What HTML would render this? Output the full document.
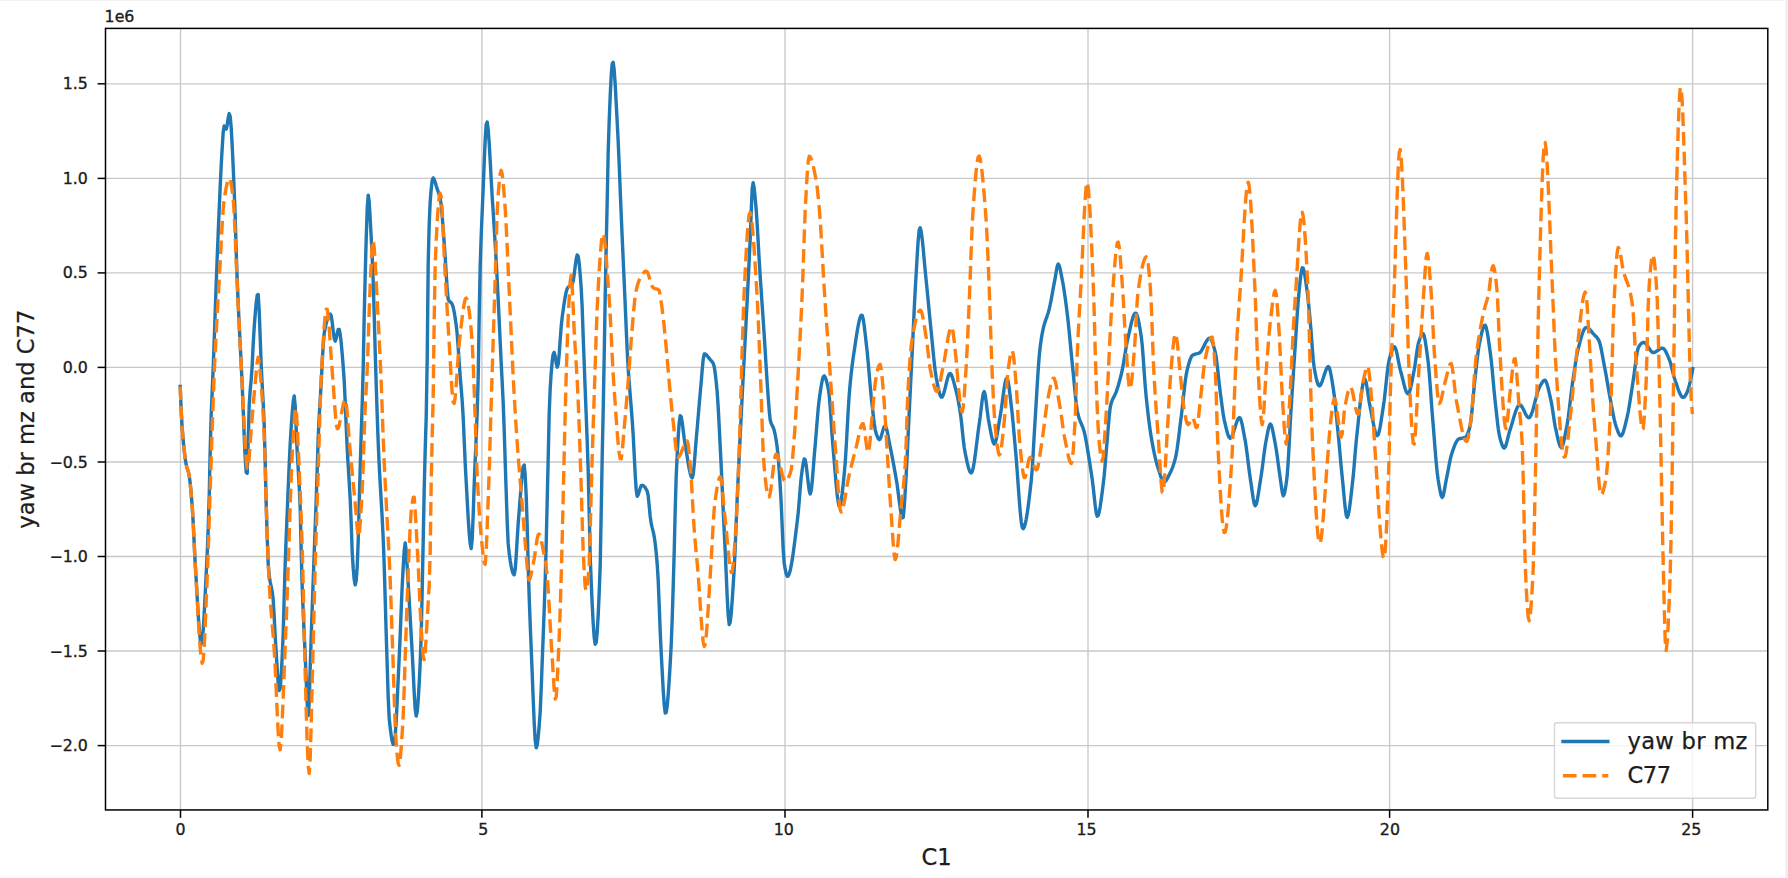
<!DOCTYPE html>
<html><head><meta charset="utf-8"><title>plot</title>
<style>
html,body{margin:0;padding:0;background:#ffffff;}
body{width:1788px;height:878px;overflow:hidden;}
svg{display:block;}
text{font-family:"DejaVu Sans", "Liberation Sans", sans-serif;fill:#1c1c1c;}
.tk{font-size:15.8px;stroke:#1c1c1c;stroke-width:0.35px;}
.lb{font-size:22.6px;stroke:#1c1c1c;stroke-width:0.25px;}
</style></head><body>
<svg width="1788" height="878" viewBox="0 0 1788 878">
<rect x="0" y="0" width="1788" height="878" fill="#ffffff"/>
<rect x="0" y="0" width="1788" height="1" fill="#f3f3f3"/><rect x="1785.4" y="0" width="2.6" height="878" fill="#efefef"/>
<rect x="105.5" y="28.4" width="1662.3" height="781.5500000000001" fill="#ffffff"/>
<clipPath id="cp"><rect x="105.5" y="28.4" width="1662.3" height="781.5500000000001"/></clipPath>
<g stroke="#c8c8c8" stroke-width="1.35" fill="none"><line x1="180.5" y1="28.4" x2="180.5" y2="809.95"/><line x1="481.9" y1="28.4" x2="481.9" y2="809.95"/><line x1="785.0" y1="28.4" x2="785.0" y2="809.95"/><line x1="1088.0" y1="28.4" x2="1088.0" y2="809.95"/><line x1="1389.6" y1="28.4" x2="1389.6" y2="809.95"/><line x1="1692.6" y1="28.4" x2="1692.6" y2="809.95"/><line x1="105.5" y1="83.8" x2="1767.8" y2="83.8"/><line x1="105.5" y1="178.4" x2="1767.8" y2="178.4"/><line x1="105.5" y1="272.9" x2="1767.8" y2="272.9"/><line x1="105.5" y1="367.4" x2="1767.8" y2="367.4"/><line x1="105.5" y1="462.0" x2="1767.8" y2="462.0"/><line x1="105.5" y1="556.5" x2="1767.8" y2="556.5"/><line x1="105.5" y1="651.0" x2="1767.8" y2="651.0"/><line x1="105.5" y1="745.6" x2="1767.8" y2="745.6"/></g>
<g clip-path="url(#cp)" fill="none" stroke-linejoin="round"><path d="M180.2,386.5 L181.2,411.0 L182.2,428.3 L183.2,440.3 L184.2,450.4 L185.2,458.6 L186.2,464.7 L187.2,468.7 L188.2,471.2 L189.2,475.5 L190.2,483.3 L191.2,493.9 L192.2,506.3 L193.2,522.8 L194.2,543.9 L195.2,563.4 L196.2,580.0 L197.2,597.5 L198.2,614.4 L199.2,628.8 L200.2,639.3 L201.2,644.2 L202.2,641.2 L203.2,630.1 L204.2,613.5 L205.2,593.9 L206.2,573.9 L207.2,553.4 L208.2,528.4 L209.2,496.6 L210.2,449.6 L211.2,414.4 L212.2,390.6 L213.2,367.4 L214.2,340.6 L215.2,311.8 L216.2,283.5 L217.2,257.5 L218.2,232.7 L219.2,209.1 L220.2,186.4 L221.2,165.3 L222.2,147.8 L223.2,132.0 L224.2,125.9 L225.2,128.0 L226.2,129.1 L227.2,124.8 L228.2,117.9 L229.2,113.6 L230.2,116.5 L231.2,128.1 L232.2,145.9 L233.2,167.5 L234.2,190.8 L235.2,216.8 L236.2,251.3 L237.2,280.5 L238.2,303.8 L239.2,324.7 L240.2,344.4 L241.2,364.0 L242.2,385.3 L243.2,410.5 L244.2,436.1 L245.2,458.1 L246.2,472.4 L247.2,473.3 L248.2,441.7 L249.2,405.3 L250.2,390.0 L251.2,379.6 L252.2,365.1 L253.2,344.1 L254.2,327.4 L255.2,314.3 L256.2,302.8 L257.2,295.2 L258.2,294.5 L259.2,310.6 L260.2,337.7 L261.2,365.3 L262.2,385.2 L263.2,402.9 L264.2,425.0 L265.2,462.6 L266.2,504.3 L267.2,537.2 L268.2,563.8 L269.2,575.7 L270.2,582.0 L271.2,586.5 L272.2,591.6 L273.2,599.8 L274.2,616.7 L275.2,636.5 L276.2,652.5 L277.2,669.1 L278.2,683.0 L279.2,690.5 L280.2,688.2 L281.2,676.0 L282.2,656.7 L283.2,633.2 L284.2,596.6 L285.2,563.6 L286.2,537.1 L287.2,512.7 L288.2,488.1 L289.2,464.5 L290.2,443.5 L291.2,427.0 L292.2,413.3 L293.2,401.6 L294.2,396.0 L295.2,405.6 L296.2,429.5 L297.2,452.1 L298.2,468.8 L299.2,485.8 L300.2,508.2 L301.2,551.4 L302.2,587.1 L303.2,612.6 L304.2,634.2 L305.2,655.5 L306.2,680.4 L307.2,703.3 L308.2,715.6 L309.2,703.0 L310.2,667.5 L311.2,636.8 L312.2,608.4 L313.2,580.3 L314.2,553.1 L315.2,526.6 L316.2,499.5 L317.2,469.1 L318.2,438.0 L319.2,415.9 L320.2,399.8 L321.2,382.4 L322.2,362.7 L323.2,345.0 L324.2,333.3 L325.2,328.0 L326.2,323.5 L327.2,319.7 L328.2,316.8 L329.2,314.9 L330.2,314.0 L331.2,315.6 L332.2,322.3 L333.2,331.1 L334.2,338.5 L335.2,341.2 L336.2,338.4 L337.2,333.4 L338.2,329.4 L339.2,329.4 L340.2,334.2 L341.2,342.8 L342.2,354.0 L343.2,366.5 L344.2,380.7 L345.2,401.9 L346.2,426.2 L347.2,448.3 L348.2,465.8 L349.2,481.9 L350.2,499.5 L351.2,523.4 L352.2,552.3 L353.2,568.2 L354.2,579.7 L355.2,584.9 L356.2,580.3 L357.2,566.8 L358.2,541.0 L359.2,502.7 L360.2,468.1 L361.2,434.7 L362.2,404.3 L363.2,368.0 L364.2,316.3 L365.2,275.4 L366.2,238.7 L367.2,208.9 L368.2,195.1 L369.2,201.7 L370.2,219.0 L371.2,237.5 L372.2,256.7 L373.2,281.1 L374.2,314.7 L375.2,351.7 L376.2,384.5 L377.2,415.1 L378.2,442.7 L379.2,465.2 L380.2,483.8 L381.2,500.7 L382.2,518.1 L383.2,538.5 L384.2,565.1 L385.2,599.4 L386.2,633.8 L387.2,665.8 L388.2,697.4 L389.2,718.4 L390.2,727.8 L391.2,735.6 L392.2,741.2 L393.2,744.4 L394.2,744.2 L395.2,735.9 L396.2,720.6 L397.2,700.8 L398.2,678.8 L399.2,657.1 L400.2,635.2 L401.2,609.3 L402.2,585.7 L403.2,567.2 L404.2,550.4 L405.2,542.9 L406.2,550.6 L407.2,567.3 L408.2,584.1 L409.2,600.4 L410.2,617.9 L411.2,635.7 L412.2,652.7 L413.2,672.2 L414.2,692.9 L415.2,709.3 L416.2,716.0 L417.2,711.8 L418.2,700.3 L419.2,683.3 L420.2,662.4 L421.2,635.3 L422.2,589.1 L423.2,540.6 L424.2,489.4 L425.2,449.3 L426.2,417.4 L427.2,358.4 L428.2,263.0 L429.2,223.9 L430.2,201.4 L431.2,189.0 L432.2,180.4 L433.2,177.9 L434.2,179.4 L435.2,182.2 L436.2,185.7 L437.2,188.9 L438.2,191.7 L439.2,194.6 L440.2,198.5 L441.2,205.0 L442.2,216.0 L443.2,229.5 L444.2,243.1 L445.2,257.2 L446.2,274.2 L447.2,289.6 L448.2,299.2 L449.2,301.2 L450.2,302.0 L451.2,302.7 L452.2,304.2 L453.2,307.3 L454.2,312.1 L455.2,318.3 L456.2,325.3 L457.2,334.4 L458.2,347.7 L459.2,362.7 L460.2,376.6 L461.2,388.5 L462.2,401.1 L463.2,417.3 L464.2,440.2 L465.2,463.5 L466.2,481.8 L467.2,500.2 L468.2,518.0 L469.2,533.2 L470.2,544.0 L471.2,548.6 L472.2,539.4 L473.2,514.3 L474.2,484.4 L475.2,459.6 L476.2,437.5 L477.2,412.4 L478.2,377.0 L479.2,315.5 L480.2,265.7 L481.2,235.5 L482.2,211.3 L483.2,188.0 L484.2,162.5 L485.2,139.3 L486.2,124.3 L487.2,122.1 L488.2,129.7 L489.2,143.4 L490.2,160.9 L491.2,179.5 L492.2,196.9 L493.2,212.2 L494.2,227.8 L495.2,244.2 L496.2,261.4 L497.2,280.0 L498.2,300.0 L499.2,320.9 L500.2,342.1 L501.2,363.0 L502.2,382.5 L503.2,402.9 L504.2,430.0 L505.2,462.3 L506.2,492.0 L507.2,522.1 L508.2,543.9 L509.2,553.2 L510.2,560.5 L511.2,566.5 L512.2,571.0 L513.2,573.8 L514.2,574.8 L515.2,569.4 L516.2,556.1 L517.2,539.2 L518.2,523.1 L519.2,510.8 L520.2,497.9 L521.2,485.1 L522.2,474.1 L523.2,466.7 L524.2,465.0 L525.2,475.5 L526.2,495.8 L527.2,525.5 L528.2,566.6 L529.2,597.3 L530.2,624.5 L531.2,648.8 L532.2,673.3 L533.2,699.2 L534.2,722.8 L535.2,740.3 L536.2,747.8 L537.2,745.2 L538.2,737.1 L539.2,725.7 L540.2,711.6 L541.2,688.7 L542.2,661.7 L543.2,635.8 L544.2,609.3 L545.2,579.8 L546.2,543.8 L547.2,500.8 L548.2,458.1 L549.2,412.6 L550.2,388.2 L551.2,373.0 L552.2,361.3 L553.2,354.1 L554.2,352.4 L555.2,356.5 L556.2,363.1 L557.2,367.2 L558.2,364.3 L559.2,353.9 L560.2,339.9 L561.2,326.4 L562.2,317.0 L563.2,309.8 L564.2,302.9 L565.2,296.8 L566.2,291.9 L567.2,288.6 L568.2,287.1 L569.2,286.4 L570.2,285.9 L571.2,285.4 L572.2,284.4 L573.2,281.2 L574.2,274.3 L575.2,266.2 L576.2,259.0 L577.2,255.0 L578.2,256.3 L579.2,263.4 L580.2,274.6 L581.2,288.2 L582.2,308.1 L583.2,337.0 L584.2,363.7 L585.2,390.0 L586.2,415.5 L587.2,441.4 L588.2,471.1 L589.2,513.4 L590.2,556.2 L591.2,581.8 L592.2,604.3 L593.2,623.5 L594.2,637.4 L595.2,644.3 L596.2,642.4 L597.2,632.1 L598.2,614.9 L599.2,592.5 L600.2,565.6 L601.2,511.8 L602.2,456.5 L603.2,410.0 L604.2,355.8 L605.2,296.4 L606.2,246.9 L607.2,200.5 L608.2,151.7 L609.2,120.5 L610.2,95.7 L611.2,75.7 L612.2,63.7 L613.2,62.3 L614.2,70.2 L615.2,84.6 L616.2,102.8 L617.2,122.5 L618.2,141.8 L619.2,165.0 L620.2,190.4 L621.2,214.6 L622.2,237.5 L623.2,260.0 L624.2,282.2 L625.2,304.8 L626.2,328.4 L627.2,350.7 L628.2,369.0 L629.2,382.5 L630.2,395.1 L631.2,407.5 L632.2,420.2 L633.2,435.2 L634.2,454.7 L635.2,474.6 L636.2,490.0 L637.2,496.2 L638.2,494.8 L639.2,491.6 L640.2,488.1 L641.2,485.6 L642.2,485.3 L643.2,485.7 L644.2,486.5 L645.2,487.7 L646.2,489.3 L647.2,491.2 L648.2,495.9 L649.2,505.9 L650.2,516.5 L651.2,523.4 L652.2,527.8 L653.2,531.7 L654.2,536.6 L655.2,543.6 L656.2,552.7 L657.2,564.1 L658.2,580.4 L659.2,605.0 L660.2,631.5 L661.2,652.9 L662.2,671.5 L663.2,689.8 L664.2,704.6 L665.2,713.0 L666.2,712.6 L667.2,706.0 L668.2,694.7 L669.2,680.1 L670.2,663.4 L671.2,645.2 L672.2,618.8 L673.2,586.5 L674.2,551.9 L675.2,510.3 L676.2,475.7 L677.2,454.9 L678.2,436.7 L679.2,422.8 L680.2,415.7 L681.2,416.7 L682.2,422.3 L683.2,430.2 L684.2,438.5 L685.2,444.9 L686.2,450.8 L687.2,457.1 L688.2,463.3 L689.2,468.9 L690.2,473.5 L691.2,476.7 L692.2,478.0 L693.2,474.6 L694.2,464.8 L695.2,451.9 L696.2,439.2 L697.2,428.1 L698.2,416.3 L699.2,404.4 L700.2,393.1 L701.2,382.1 L702.2,369.8 L703.2,359.4 L704.2,354.0 L705.2,354.0 L706.2,354.7 L707.2,355.8 L708.2,357.0 L709.2,358.4 L710.2,359.6 L711.2,360.6 L712.2,361.8 L713.2,363.4 L714.2,366.5 L715.2,373.0 L716.2,381.9 L717.2,392.3 L718.2,407.3 L719.2,426.4 L720.2,446.4 L721.2,466.4 L722.2,487.8 L723.2,509.7 L724.2,531.0 L725.2,551.0 L726.2,573.8 L727.2,596.9 L728.2,615.4 L729.2,624.6 L730.2,622.4 L731.2,613.6 L732.2,600.4 L733.2,584.8 L734.2,568.7 L735.2,547.8 L736.2,522.8 L737.2,498.3 L738.2,476.8 L739.2,455.9 L740.2,435.6 L741.2,415.6 L742.2,395.9 L743.2,376.4 L744.2,357.5 L745.2,338.8 L746.2,319.7 L747.2,300.1 L748.2,280.2 L749.2,260.0 L750.2,238.8 L751.2,211.6 L752.2,188.4 L753.2,182.6 L754.2,188.5 L755.2,198.5 L756.2,209.6 L757.2,224.6 L758.2,242.3 L759.2,260.1 L760.2,276.0 L761.2,290.9 L762.2,305.6 L763.2,320.2 L764.2,335.2 L765.2,351.1 L766.2,367.5 L767.2,383.0 L768.2,396.9 L769.2,410.5 L770.2,420.0 L771.2,423.5 L772.2,425.5 L773.2,427.4 L774.2,430.4 L775.2,434.8 L776.2,440.5 L777.2,447.5 L778.2,457.2 L779.2,470.5 L780.2,485.9 L781.2,503.3 L782.2,527.0 L783.2,549.8 L784.2,562.9 L785.2,569.2 L786.2,573.9 L787.2,576.3 L788.2,576.0 L789.2,573.9 L790.2,570.5 L791.2,565.7 L792.2,559.9 L793.2,553.1 L794.2,545.8 L795.2,537.9 L796.2,529.8 L797.2,521.6 L798.2,513.1 L799.2,501.3 L800.2,488.3 L801.2,477.4 L802.2,469.9 L803.2,463.1 L804.2,459.0 L805.2,459.7 L806.2,465.4 L807.2,473.9 L808.2,483.1 L809.2,490.5 L810.2,493.9 L811.2,490.8 L812.2,481.8 L813.2,469.5 L814.2,456.4 L815.2,445.0 L816.2,433.0 L817.2,420.4 L818.2,408.7 L819.2,399.4 L820.2,392.6 L821.2,386.0 L822.2,380.5 L823.2,376.9 L824.2,375.9 L825.2,377.2 L826.2,380.0 L827.2,383.9 L828.2,388.5 L829.2,395.2 L830.2,407.2 L831.2,422.0 L832.2,437.0 L833.2,449.4 L834.2,460.9 L835.2,473.1 L836.2,484.8 L837.2,494.9 L838.2,502.4 L839.2,506.2 L840.2,505.3 L841.2,500.7 L842.2,493.2 L843.2,484.0 L844.2,474.1 L845.2,462.8 L846.2,446.9 L847.2,428.7 L848.2,410.5 L849.2,394.9 L850.2,383.5 L851.2,373.7 L852.2,365.1 L853.2,357.6 L854.2,351.0 L855.2,344.2 L856.2,337.6 L857.2,331.2 L858.2,325.6 L859.2,320.8 L860.2,317.3 L861.2,315.3 L862.2,315.4 L863.2,319.0 L864.2,325.7 L865.2,334.1 L866.2,343.1 L867.2,351.9 L868.2,362.4 L869.2,374.2 L870.2,386.1 L871.2,396.7 L872.2,405.8 L873.2,414.9 L874.2,423.2 L875.2,429.6 L876.2,433.5 L877.2,436.4 L878.2,438.6 L879.2,439.7 L880.2,439.0 L881.2,436.4 L882.2,432.9 L883.2,429.4 L884.2,426.7 L885.2,425.8 L886.2,427.5 L887.2,431.4 L888.2,436.5 L889.2,442.0 L890.2,446.9 L891.2,451.8 L892.2,456.9 L893.2,462.2 L894.2,467.6 L895.2,473.2 L896.2,478.9 L897.2,485.1 L898.2,492.7 L899.2,500.7 L900.2,508.2 L901.2,514.3 L902.2,517.9 L903.2,517.5 L904.2,507.5 L905.2,491.4 L906.2,474.7 L907.2,455.5 L908.2,433.7 L909.2,412.6 L910.2,392.5 L911.2,372.5 L912.2,352.3 L913.2,331.4 L914.2,309.7 L915.2,290.1 L916.2,273.1 L917.2,255.6 L918.2,240.2 L919.2,230.0 L920.2,227.8 L921.2,231.6 L922.2,238.9 L923.2,248.7 L924.2,259.8 L925.2,270.9 L926.2,280.9 L927.2,290.7 L928.2,301.0 L929.2,311.5 L930.2,321.7 L931.2,331.6 L932.2,342.0 L933.2,352.4 L934.2,362.3 L935.2,370.8 L936.2,377.5 L937.2,382.7 L938.2,387.7 L939.2,392.1 L940.2,395.4 L941.2,397.1 L942.2,397.0 L943.2,395.0 L944.2,391.8 L945.2,387.9 L946.2,383.6 L947.2,379.6 L948.2,376.2 L949.2,374.0 L950.2,373.4 L951.2,374.5 L952.2,376.8 L953.2,379.9 L954.2,383.6 L955.2,387.4 L956.2,391.2 L957.2,395.5 L958.2,400.5 L959.2,406.0 L960.2,412.1 L961.2,419.8 L962.2,429.3 L963.2,439.0 L964.2,447.2 L965.2,452.9 L966.2,457.9 L967.2,462.6 L968.2,466.7 L969.2,470.0 L970.2,472.2 L971.2,473.0 L972.2,471.6 L973.2,467.9 L974.2,462.3 L975.2,455.3 L976.2,447.5 L977.2,439.3 L978.2,431.2 L979.2,423.9 L980.2,416.9 L981.2,408.4 L982.2,400.0 L983.2,393.8 L984.2,391.6 L985.2,394.9 L986.2,401.9 L987.2,410.4 L988.2,418.3 L989.2,423.8 L990.2,429.2 L991.2,434.4 L992.2,439.0 L993.2,442.4 L994.2,444.0 L995.2,443.0 L996.2,439.6 L997.2,434.3 L998.2,428.2 L999.2,421.8 L1000.2,416.2 L1001.2,410.0 L1002.2,402.7 L1003.2,395.1 L1004.2,388.1 L1005.2,382.4 L1006.2,378.8 L1007.2,378.2 L1008.2,381.6 L1009.2,388.2 L1010.2,396.5 L1011.2,405.1 L1012.2,413.8 L1013.2,424.2 L1014.2,435.5 L1015.2,446.8 L1016.2,458.1 L1017.2,471.3 L1018.2,485.4 L1019.2,499.2 L1020.2,511.6 L1021.2,521.4 L1022.2,527.5 L1023.2,528.7 L1024.2,527.2 L1025.2,524.0 L1026.2,519.3 L1027.2,513.4 L1028.2,506.3 L1029.2,498.4 L1030.2,489.8 L1031.2,480.8 L1032.2,469.6 L1033.2,453.1 L1034.2,435.0 L1035.2,418.7 L1036.2,402.1 L1037.2,385.3 L1038.2,369.6 L1039.2,356.3 L1040.2,346.7 L1041.2,339.4 L1042.2,333.5 L1043.2,328.7 L1044.2,324.7 L1045.2,321.4 L1046.2,318.6 L1047.2,315.8 L1048.2,312.8 L1049.2,309.2 L1050.2,304.7 L1051.2,299.6 L1052.2,294.1 L1053.2,288.5 L1054.2,283.1 L1055.2,277.9 L1056.2,271.7 L1057.2,266.3 L1058.2,264.0 L1059.2,265.5 L1060.2,269.2 L1061.2,274.3 L1062.2,279.5 L1063.2,284.8 L1064.2,291.0 L1065.2,298.0 L1066.2,305.5 L1067.2,313.4 L1068.2,322.0 L1069.2,331.8 L1070.2,342.2 L1071.2,352.8 L1072.2,363.2 L1073.2,373.0 L1074.2,383.3 L1075.2,393.8 L1076.2,403.3 L1077.2,410.5 L1078.2,415.1 L1079.2,418.5 L1080.2,421.2 L1081.2,423.5 L1082.2,425.9 L1083.2,428.5 L1084.2,431.8 L1085.2,436.1 L1086.2,441.4 L1087.2,447.3 L1088.2,453.4 L1089.2,459.5 L1090.2,465.9 L1091.2,472.5 L1092.2,479.3 L1093.2,487.1 L1094.2,496.5 L1095.2,505.5 L1096.2,512.7 L1097.2,516.2 L1098.2,515.4 L1099.2,512.0 L1100.2,506.6 L1101.2,499.8 L1102.2,492.1 L1103.2,484.0 L1104.2,475.5 L1105.2,464.3 L1106.2,451.8 L1107.2,440.0 L1108.2,428.2 L1109.2,416.4 L1110.2,407.5 L1111.2,403.1 L1112.2,400.2 L1113.2,398.1 L1114.2,396.2 L1115.2,394.3 L1116.2,391.9 L1117.2,388.9 L1118.2,385.7 L1119.2,382.2 L1120.2,378.5 L1121.2,374.5 L1122.2,370.2 L1123.2,365.0 L1124.2,359.1 L1125.2,352.9 L1126.2,346.8 L1127.2,341.5 L1128.2,337.0 L1129.2,332.6 L1130.2,328.1 L1131.2,323.7 L1132.2,319.9 L1133.2,316.6 L1134.2,314.3 L1135.2,313.1 L1136.2,313.4 L1137.2,315.5 L1138.2,319.3 L1139.2,324.2 L1140.2,330.0 L1141.2,336.3 L1142.2,344.9 L1143.2,357.7 L1144.2,372.2 L1145.2,386.0 L1146.2,396.8 L1147.2,406.2 L1148.2,415.1 L1149.2,423.2 L1150.2,430.6 L1151.2,437.1 L1152.2,442.8 L1153.2,448.1 L1154.2,453.0 L1155.2,457.5 L1156.2,461.6 L1157.2,465.2 L1158.2,468.5 L1159.2,471.5 L1160.2,474.7 L1161.2,477.6 L1162.2,480.0 L1163.2,481.6 L1164.2,482.1 L1165.2,481.6 L1166.2,480.4 L1167.2,478.8 L1168.2,476.8 L1169.2,474.8 L1170.2,472.8 L1171.2,470.7 L1172.2,468.3 L1173.2,465.6 L1174.2,462.5 L1175.2,458.9 L1176.2,454.4 L1177.2,448.3 L1178.2,440.9 L1179.2,432.9 L1180.2,424.6 L1181.2,416.7 L1182.2,408.4 L1183.2,399.3 L1184.2,390.1 L1185.2,381.6 L1186.2,374.7 L1187.2,369.9 L1188.2,365.9 L1189.2,362.4 L1190.2,359.4 L1191.2,357.0 L1192.2,355.5 L1193.2,354.9 L1194.2,354.5 L1195.2,354.2 L1196.2,353.9 L1197.2,353.7 L1198.2,353.4 L1199.2,353.0 L1200.2,352.3 L1201.2,351.1 L1202.2,349.4 L1203.2,347.5 L1204.2,345.5 L1205.2,343.5 L1206.2,341.7 L1207.2,340.1 L1208.2,338.9 L1209.2,338.2 L1210.2,338.3 L1211.2,339.5 L1212.2,341.7 L1213.2,344.7 L1214.2,348.2 L1215.2,352.1 L1216.2,357.2 L1217.2,365.1 L1218.2,374.3 L1219.2,383.6 L1220.2,391.6 L1221.2,399.4 L1222.2,407.1 L1223.2,414.1 L1224.2,419.8 L1225.2,424.2 L1226.2,428.4 L1227.2,432.3 L1228.2,435.4 L1229.2,437.5 L1230.2,438.3 L1231.2,437.6 L1232.2,435.8 L1233.2,433.2 L1234.2,430.1 L1235.2,426.7 L1236.2,423.5 L1237.2,420.7 L1238.2,418.6 L1239.2,417.6 L1240.2,418.1 L1241.2,420.6 L1242.2,424.7 L1243.2,429.8 L1244.2,435.2 L1245.2,440.6 L1246.2,447.0 L1247.2,454.6 L1248.2,462.8 L1249.2,470.8 L1250.2,478.1 L1251.2,484.6 L1252.2,491.8 L1253.2,498.5 L1254.2,503.6 L1255.2,505.8 L1256.2,504.5 L1257.2,500.5 L1258.2,494.8 L1259.2,488.3 L1260.2,481.8 L1261.2,475.6 L1262.2,468.4 L1263.2,460.6 L1264.2,452.8 L1265.2,445.8 L1266.2,440.0 L1267.2,434.8 L1268.2,429.7 L1269.2,425.8 L1270.2,424.0 L1271.2,425.0 L1272.2,428.2 L1273.2,432.8 L1274.2,438.1 L1275.2,443.5 L1276.2,449.2 L1277.2,456.1 L1278.2,463.6 L1279.2,471.1 L1280.2,478.1 L1281.2,484.9 L1282.2,492.0 L1283.2,495.8 L1284.2,494.3 L1285.2,489.8 L1286.2,483.5 L1287.2,475.5 L1288.2,461.7 L1289.2,443.9 L1290.2,424.7 L1291.2,406.9 L1292.2,391.3 L1293.2,376.0 L1294.2,360.9 L1295.2,345.9 L1296.2,330.7 L1297.2,314.6 L1298.2,301.1 L1299.2,290.5 L1300.2,280.4 L1301.2,272.3 L1302.2,267.8 L1303.2,268.1 L1304.2,271.7 L1305.2,277.5 L1306.2,284.4 L1307.2,291.4 L1308.2,300.0 L1309.2,310.2 L1310.2,321.2 L1311.2,332.9 L1312.2,346.9 L1313.2,359.7 L1314.2,367.8 L1315.2,373.3 L1316.2,378.2 L1317.2,382.1 L1318.2,384.8 L1319.2,385.9 L1320.2,385.4 L1321.2,383.7 L1322.2,381.3 L1323.2,378.3 L1324.2,375.1 L1325.2,372.1 L1326.2,369.4 L1327.2,367.5 L1328.2,366.6 L1329.2,367.5 L1330.2,370.8 L1331.2,375.8 L1332.2,381.8 L1333.2,388.1 L1334.2,394.9 L1335.2,403.6 L1336.2,413.5 L1337.2,423.9 L1338.2,434.0 L1339.2,444.7 L1340.2,455.8 L1341.2,466.9 L1342.2,477.2 L1343.2,487.0 L1344.2,497.8 L1345.2,507.8 L1346.2,515.0 L1347.2,517.4 L1348.2,515.2 L1349.2,510.0 L1350.2,502.7 L1351.2,494.2 L1352.2,485.2 L1353.2,476.3 L1354.2,465.0 L1355.2,452.6 L1356.2,441.4 L1357.2,432.0 L1358.2,422.3 L1359.2,412.6 L1360.2,403.3 L1361.2,394.9 L1362.2,387.9 L1363.2,382.6 L1364.2,379.6 L1365.2,379.4 L1366.2,382.8 L1367.2,388.7 L1368.2,395.6 L1369.2,402.1 L1370.2,407.2 L1371.2,412.3 L1372.2,417.6 L1373.2,422.8 L1374.2,427.6 L1375.2,431.5 L1376.2,434.3 L1377.2,435.6 L1378.2,434.7 L1379.2,431.5 L1380.2,426.6 L1381.2,420.5 L1382.2,413.8 L1383.2,407.2 L1384.2,400.4 L1385.2,391.8 L1386.2,382.2 L1387.2,373.0 L1388.2,365.1 L1389.2,359.7 L1390.2,356.0 L1391.2,352.5 L1392.2,349.7 L1393.2,347.7 L1394.2,346.7 L1395.2,347.5 L1396.2,350.4 L1397.2,354.7 L1398.2,359.9 L1399.2,365.0 L1400.2,369.6 L1401.2,373.3 L1402.2,377.2 L1403.2,381.2 L1404.2,385.2 L1405.2,388.7 L1406.2,391.5 L1407.2,393.3 L1408.2,393.9 L1409.2,392.6 L1410.2,389.6 L1411.2,385.3 L1412.2,380.3 L1413.2,375.0 L1414.2,370.0 L1415.2,363.7 L1416.2,356.4 L1417.2,349.5 L1418.2,344.1 L1419.2,340.8 L1420.2,337.8 L1421.2,335.4 L1422.2,333.8 L1423.2,333.6 L1424.2,336.0 L1425.2,340.8 L1426.2,347.2 L1427.2,354.5 L1428.2,362.1 L1429.2,372.6 L1430.2,385.7 L1431.2,399.7 L1432.2,413.1 L1433.2,425.2 L1434.2,437.9 L1435.2,450.6 L1436.2,462.4 L1437.2,472.5 L1438.2,480.0 L1439.2,486.0 L1440.2,491.5 L1441.2,495.6 L1442.2,497.4 L1443.2,495.8 L1444.2,491.2 L1445.2,485.4 L1446.2,480.0 L1447.2,475.1 L1448.2,469.9 L1449.2,464.6 L1450.2,459.7 L1451.2,455.4 L1452.2,452.2 L1453.2,449.4 L1454.2,446.7 L1455.2,444.2 L1456.2,442.1 L1457.2,440.4 L1458.2,439.3 L1459.2,438.8 L1460.2,438.5 L1461.2,438.3 L1462.2,438.1 L1463.2,437.9 L1464.2,437.7 L1465.2,437.3 L1466.2,436.6 L1467.2,434.9 L1468.2,432.4 L1469.2,429.2 L1470.2,425.4 L1471.2,418.6 L1472.2,408.5 L1473.2,397.1 L1474.2,386.3 L1475.2,377.1 L1476.2,367.9 L1477.2,359.0 L1478.2,351.0 L1479.2,344.5 L1480.2,339.7 L1481.2,335.0 L1482.2,330.9 L1483.2,327.6 L1484.2,325.6 L1485.2,325.2 L1486.2,327.5 L1487.2,332.0 L1488.2,338.0 L1489.2,345.0 L1490.2,352.3 L1491.2,360.0 L1492.2,369.8 L1493.2,380.8 L1494.2,391.9 L1495.2,401.6 L1496.2,410.8 L1497.2,420.0 L1498.2,428.3 L1499.2,434.7 L1500.2,438.9 L1501.2,442.4 L1502.2,445.3 L1503.2,447.3 L1504.2,448.1 L1505.2,447.1 L1506.2,444.4 L1507.2,440.6 L1508.2,436.5 L1509.2,432.6 L1510.2,429.4 L1511.2,426.3 L1512.2,422.9 L1513.2,419.4 L1514.2,416.0 L1515.2,412.8 L1516.2,409.9 L1517.2,407.6 L1518.2,405.9 L1519.2,404.9 L1520.2,404.9 L1521.2,405.7 L1522.2,407.2 L1523.2,409.0 L1524.2,411.1 L1525.2,413.2 L1526.2,415.1 L1527.2,416.6 L1528.2,417.6 L1529.2,417.7 L1530.2,416.8 L1531.2,414.8 L1532.2,412.0 L1533.2,408.7 L1534.2,404.9 L1535.2,401.0 L1536.2,397.1 L1537.2,393.4 L1538.2,390.3 L1539.2,387.8 L1540.2,385.9 L1541.2,384.1 L1542.2,382.5 L1543.2,381.1 L1544.2,380.3 L1545.2,380.3 L1546.2,381.8 L1547.2,384.6 L1548.2,388.3 L1549.2,392.6 L1550.2,397.1 L1551.2,401.6 L1552.2,407.3 L1553.2,414.0 L1554.2,420.7 L1555.2,426.6 L1556.2,431.2 L1557.2,435.8 L1558.2,440.2 L1559.2,443.9 L1560.2,446.5 L1561.2,447.4 L1562.2,446.4 L1563.2,443.6 L1564.2,439.5 L1565.2,434.7 L1566.2,429.4 L1567.2,424.2 L1568.2,417.7 L1569.2,409.9 L1570.2,401.5 L1571.2,393.1 L1572.2,385.3 L1573.2,378.4 L1574.2,371.6 L1575.2,364.9 L1576.2,358.7 L1577.2,353.2 L1578.2,348.7 L1579.2,344.9 L1580.2,341.1 L1581.2,337.6 L1582.2,334.3 L1583.2,331.5 L1584.2,329.3 L1585.2,327.9 L1586.2,327.4 L1587.2,327.6 L1588.2,328.1 L1589.2,329.0 L1590.2,330.0 L1591.2,331.1 L1592.2,332.4 L1593.2,333.6 L1594.2,334.7 L1595.2,335.7 L1596.2,336.7 L1597.2,337.9 L1598.2,339.3 L1599.2,341.3 L1600.2,344.6 L1601.2,349.0 L1602.2,354.2 L1603.2,359.7 L1604.2,365.1 L1605.2,370.3 L1606.2,375.8 L1607.2,381.6 L1608.2,387.4 L1609.2,393.1 L1610.2,398.5 L1611.2,403.8 L1612.2,409.3 L1613.2,414.6 L1614.2,419.4 L1615.2,423.5 L1616.2,426.7 L1617.2,429.5 L1618.2,432.2 L1619.2,434.3 L1620.2,435.7 L1621.2,435.9 L1622.2,434.7 L1623.2,432.3 L1624.2,429.0 L1625.2,425.1 L1626.2,420.9 L1627.2,416.7 L1628.2,412.0 L1629.2,406.4 L1630.2,400.1 L1631.2,393.5 L1632.2,386.9 L1633.2,380.6 L1634.2,373.4 L1635.2,365.7 L1636.2,358.3 L1637.2,352.0 L1638.2,347.9 L1639.2,346.1 L1640.2,344.7 L1641.2,343.6 L1642.2,342.8 L1643.2,342.4 L1644.2,342.5 L1645.2,343.1 L1646.2,344.2 L1647.2,345.5 L1648.2,347.0 L1649.2,348.6 L1650.2,350.0 L1651.2,351.3 L1652.2,352.2 L1653.2,352.6 L1654.2,352.5 L1655.2,352.1 L1656.2,351.6 L1657.2,350.9 L1658.2,350.2 L1659.2,349.4 L1660.2,348.8 L1661.2,348.3 L1662.2,348.1 L1663.2,348.3 L1664.2,349.1 L1665.2,350.6 L1666.2,352.4 L1667.2,354.6 L1668.2,356.9 L1669.2,359.3 L1670.2,362.0 L1671.2,365.6 L1672.2,369.6 L1673.2,373.7 L1674.2,377.5 L1675.2,380.6 L1676.2,383.4 L1677.2,386.4 L1678.2,389.3 L1679.2,392.0 L1680.2,394.2 L1681.2,396.0 L1682.2,397.1 L1683.2,397.4 L1684.2,397.0 L1685.2,395.9 L1686.2,394.2 L1687.2,392.0 L1688.2,389.1 L1689.2,385.7 L1690.2,381.7 L1691.2,377.1 L1692.2,372.0 L1692.8,368.6" stroke="#1f77b4" stroke-width="3.4" stroke-linecap="square"/><path d="M180.2,386.5 L181.2,411.0 L182.2,428.3 L183.2,440.3 L184.2,450.4 L185.2,458.6 L186.2,464.7 L187.2,468.7 L188.2,471.2 L189.2,475.5 L190.2,483.3 L191.2,493.9 L192.2,506.3 L193.2,522.7 L194.2,543.6 L195.2,563.3 L196.2,580.5 L197.2,598.8 L198.2,617.0 L199.2,633.8 L200.2,648.0 L201.2,658.3 L202.2,663.3 L203.2,660.4 L204.2,646.8 L205.2,625.9 L206.2,601.6 L207.2,577.7 L208.2,550.9 L209.2,520.1 L210.2,488.9 L211.2,459.2 L212.2,428.7 L213.2,399.5 L214.2,374.0 L215.2,352.3 L216.2,332.6 L217.2,314.3 L218.2,296.9 L219.2,279.8 L220.2,262.0 L221.2,242.7 L222.2,224.2 L223.2,208.9 L224.2,199.3 L225.2,193.0 L226.2,187.5 L227.2,183.0 L228.2,179.9 L229.2,178.5 L230.2,179.7 L231.2,184.0 L232.2,190.8 L233.2,199.1 L234.2,213.3 L235.2,236.4 L236.2,261.6 L237.2,283.4 L238.2,304.4 L239.2,325.2 L240.2,345.4 L241.2,364.7 L242.2,383.5 L243.2,404.5 L244.2,425.9 L245.2,445.2 L246.2,460.1 L247.2,468.2 L248.2,467.1 L249.2,457.4 L250.2,443.4 L251.2,429.2 L252.2,417.5 L253.2,405.6 L254.2,394.1 L255.2,383.7 L256.2,372.2 L257.2,362.1 L258.2,357.2 L259.2,361.5 L260.2,372.7 L261.2,384.8 L262.2,398.5 L263.2,415.3 L264.2,436.0 L265.2,468.0 L266.2,504.5 L267.2,534.7 L268.2,562.4 L269.2,583.6 L270.2,599.4 L271.2,612.5 L272.2,624.2 L273.2,636.1 L274.2,649.6 L275.2,667.4 L276.2,689.5 L277.2,712.4 L278.2,732.5 L279.2,746.2 L280.2,749.7 L281.2,740.6 L282.2,721.8 L283.2,697.1 L284.2,670.7 L285.2,646.3 L286.2,621.0 L287.2,593.8 L288.2,566.5 L289.2,536.8 L290.2,505.8 L291.2,477.0 L292.2,453.7 L293.2,436.5 L294.2,420.8 L295.2,409.9 L296.2,408.5 L297.2,425.4 L298.2,448.3 L299.2,469.1 L300.2,491.8 L301.2,517.3 L302.2,546.9 L303.2,585.1 L304.2,634.5 L305.2,673.0 L306.2,710.1 L307.2,743.0 L308.2,766.1 L309.2,773.6 L310.2,757.8 L311.2,723.8 L312.2,682.3 L313.2,643.7 L314.2,603.2 L315.2,565.0 L316.2,532.2 L317.2,501.5 L318.2,471.1 L319.2,437.9 L320.2,404.6 L321.2,377.9 L322.2,359.4 L323.2,342.1 L324.2,326.9 L325.2,315.5 L326.2,309.1 L327.2,309.2 L328.2,316.2 L329.2,328.0 L330.2,342.6 L331.2,357.6 L332.2,370.9 L333.2,383.6 L334.2,398.3 L335.2,412.4 L336.2,423.5 L337.2,428.8 L338.2,428.2 L339.2,425.1 L340.2,420.5 L341.2,415.1 L342.2,409.6 L343.2,404.6 L344.2,401.1 L345.2,399.5 L346.2,402.9 L347.2,412.8 L348.2,426.1 L349.2,440.0 L350.2,451.5 L351.2,461.9 L352.2,472.4 L353.2,482.8 L354.2,493.1 L355.2,503.5 L356.2,514.8 L357.2,528.0 L358.2,536.6 L359.2,534.6 L360.2,523.7 L361.2,507.7 L362.2,490.2 L363.2,465.0 L364.2,434.5 L365.2,407.2 L366.2,389.0 L367.2,370.5 L368.2,342.2 L369.2,310.8 L370.2,285.6 L371.2,262.5 L372.2,244.5 L373.2,240.4 L374.2,247.9 L375.2,262.4 L376.2,281.0 L377.2,300.9 L378.2,319.3 L379.2,338.5 L380.2,359.8 L381.2,382.8 L382.2,409.0 L383.2,438.1 L384.2,461.8 L385.2,482.3 L386.2,501.4 L387.2,520.5 L388.2,538.7 L389.2,557.3 L390.2,579.6 L391.2,607.3 L392.2,636.8 L393.2,665.5 L394.2,696.8 L395.2,725.1 L396.2,743.5 L397.2,755.3 L398.2,763.7 L399.2,765.3 L400.2,759.4 L401.2,747.9 L402.2,732.8 L403.2,715.8 L404.2,688.7 L405.2,656.8 L406.2,627.9 L407.2,598.8 L408.2,572.1 L409.2,548.5 L410.2,526.1 L411.2,510.9 L412.2,503.0 L413.2,497.5 L414.2,497.2 L415.2,510.9 L416.2,528.2 L417.2,545.8 L418.2,565.0 L419.2,586.7 L420.2,609.5 L421.2,628.3 L422.2,644.2 L423.2,656.9 L424.2,659.7 L425.2,651.8 L426.2,637.2 L427.2,619.5 L428.2,602.4 L429.2,585.1 L430.2,551.6 L431.2,482.5 L432.2,436.7 L433.2,395.5 L434.2,319.2 L435.2,264.8 L436.2,240.9 L437.2,221.5 L438.2,207.0 L439.2,197.5 L440.2,193.2 L441.2,196.4 L442.2,210.8 L443.2,232.0 L444.2,254.9 L445.2,274.6 L446.2,292.3 L447.2,310.2 L448.2,327.3 L449.2,343.1 L450.2,360.2 L451.2,377.7 L452.2,392.8 L453.2,402.2 L454.2,403.4 L455.2,397.0 L456.2,385.5 L457.2,371.3 L458.2,356.5 L459.2,343.5 L460.2,334.3 L461.2,325.8 L462.2,317.4 L463.2,309.7 L464.2,303.5 L465.2,299.3 L466.2,298.0 L467.2,299.8 L468.2,304.4 L469.2,311.3 L470.2,320.0 L471.2,330.1 L472.2,342.4 L473.2,364.1 L474.2,390.0 L475.2,419.3 L476.2,450.8 L477.2,475.1 L478.2,494.0 L479.2,510.6 L480.2,524.8 L481.2,536.5 L482.2,546.5 L483.2,555.9 L484.2,562.8 L485.2,564.4 L486.2,551.5 L487.2,526.9 L488.2,499.1 L489.2,471.0 L490.2,437.5 L491.2,403.0 L492.2,371.1 L493.2,340.1 L494.2,309.5 L495.2,278.1 L496.2,242.7 L497.2,211.8 L498.2,194.6 L499.2,182.4 L500.2,173.6 L501.2,170.3 L502.2,174.0 L503.2,183.3 L504.2,195.2 L505.2,208.3 L506.2,226.1 L507.2,247.2 L508.2,269.6 L509.2,291.1 L510.2,312.3 L511.2,334.3 L512.2,356.1 L513.2,376.8 L514.2,395.3 L515.2,412.2 L516.2,428.0 L517.2,442.7 L518.2,456.4 L519.2,468.9 L520.2,480.8 L521.2,492.7 L522.2,505.0 L523.2,518.0 L524.2,530.8 L525.2,542.9 L526.2,554.5 L527.2,567.1 L528.2,577.0 L529.2,579.9 L530.2,578.0 L531.2,574.1 L532.2,569.1 L533.2,563.9 L534.2,558.8 L535.2,552.2 L536.2,545.0 L537.2,538.6 L538.2,534.6 L539.2,534.0 L540.2,536.1 L541.2,540.0 L542.2,544.9 L543.2,550.1 L544.2,555.0 L545.2,560.3 L546.2,566.8 L547.2,576.0 L548.2,589.9 L549.2,606.8 L550.2,624.9 L551.2,642.0 L552.2,657.1 L553.2,674.0 L554.2,689.6 L555.2,699.1 L556.2,697.0 L557.2,681.5 L558.2,659.8 L559.2,637.2 L560.2,609.2 L561.2,576.8 L562.2,539.5 L563.2,496.5 L564.2,454.4 L565.2,412.4 L566.2,376.3 L567.2,344.1 L568.2,318.0 L569.2,298.1 L570.2,281.4 L571.2,275.3 L572.2,286.2 L573.2,308.0 L574.2,331.0 L575.2,348.2 L576.2,363.6 L577.2,380.3 L578.2,401.2 L579.2,427.5 L580.2,456.5 L581.2,486.6 L582.2,521.0 L583.2,551.3 L584.2,571.2 L585.2,586.7 L586.2,590.5 L587.2,586.2 L588.2,577.7 L589.2,564.9 L590.2,531.8 L591.2,490.6 L592.2,457.3 L593.2,426.0 L594.2,395.9 L595.2,365.7 L596.2,334.9 L597.2,307.6 L598.2,287.8 L599.2,271.3 L600.2,256.1 L601.2,243.8 L602.2,235.9 L603.2,233.8 L604.2,237.7 L605.2,246.0 L606.2,257.5 L607.2,270.7 L608.2,284.5 L609.2,298.2 L610.2,315.4 L611.2,335.1 L612.2,355.4 L613.2,374.3 L614.2,390.0 L615.2,404.0 L616.2,418.4 L617.2,432.1 L618.2,444.1 L619.2,453.3 L620.2,458.7 L621.2,458.9 L622.2,451.7 L623.2,440.0 L624.2,427.8 L625.2,417.0 L626.2,405.6 L627.2,393.7 L628.2,381.0 L629.2,367.2 L630.2,353.3 L631.2,340.3 L632.2,328.4 L633.2,316.3 L634.2,305.2 L635.2,296.1 L636.2,290.2 L637.2,286.1 L638.2,282.8 L639.2,280.2 L640.2,278.1 L641.2,276.4 L642.2,274.8 L643.2,273.4 L644.2,272.2 L645.2,271.4 L646.2,271.1 L647.2,271.8 L648.2,274.0 L649.2,277.1 L650.2,280.6 L651.2,283.9 L652.2,286.4 L653.2,287.8 L654.2,288.3 L655.2,288.6 L656.2,288.8 L657.2,289.1 L658.2,289.6 L659.2,290.7 L660.2,295.1 L661.2,301.9 L662.2,309.3 L663.2,317.3 L664.2,326.8 L665.2,337.1 L666.2,347.6 L667.2,359.2 L668.2,370.9 L669.2,382.1 L670.2,392.6 L671.2,402.9 L672.2,412.8 L673.2,422.1 L674.2,431.2 L675.2,441.5 L676.2,450.8 L677.2,456.6 L678.2,457.3 L679.2,456.3 L680.2,454.6 L681.2,452.4 L682.2,450.0 L683.2,447.4 L684.2,445.0 L685.2,443.0 L686.2,441.6 L687.2,441.0 L688.2,444.2 L689.2,453.3 L690.2,465.1 L691.2,477.8 L692.2,495.0 L693.2,513.7 L694.2,529.4 L695.2,541.7 L696.2,552.7 L697.2,563.3 L698.2,574.9 L699.2,588.8 L700.2,604.1 L701.2,619.2 L702.2,632.3 L703.2,642.0 L704.2,646.5 L705.2,644.4 L706.2,636.2 L707.2,623.7 L708.2,608.3 L709.2,591.8 L710.2,575.9 L711.2,560.5 L712.2,542.1 L713.2,523.7 L714.2,509.2 L715.2,500.6 L716.2,493.3 L717.2,486.9 L718.2,481.7 L719.2,478.2 L720.2,476.8 L721.2,479.6 L722.2,487.7 L723.2,498.6 L724.2,509.9 L725.2,519.3 L726.2,529.3 L727.2,540.2 L728.2,551.0 L729.2,560.7 L730.2,568.2 L731.2,572.4 L732.2,571.9 L733.2,564.1 L734.2,551.7 L735.2,538.2 L736.2,522.0 L737.2,501.9 L738.2,478.6 L739.2,450.9 L740.2,416.9 L741.2,383.6 L742.2,349.4 L743.2,316.6 L744.2,291.1 L745.2,271.2 L746.2,252.2 L747.2,235.4 L748.2,222.3 L749.2,214.3 L750.2,212.7 L751.2,216.7 L752.2,224.8 L753.2,236.2 L754.2,250.1 L755.2,265.5 L756.2,281.5 L757.2,297.9 L758.2,318.7 L759.2,343.2 L760.2,369.3 L761.2,395.3 L762.2,426.0 L763.2,453.1 L764.2,466.8 L765.2,477.5 L766.2,486.4 L767.2,493.0 L768.2,496.7 L769.2,496.9 L770.2,493.1 L771.2,486.3 L772.2,477.9 L773.2,469.1 L774.2,461.3 L775.2,455.8 L776.2,454.0 L777.2,455.1 L778.2,457.7 L779.2,461.4 L780.2,465.7 L781.2,470.2 L782.2,474.4 L783.2,478.0 L784.2,480.5 L785.2,481.4 L786.2,481.0 L787.2,480.0 L788.2,478.3 L789.2,476.0 L790.2,473.3 L791.2,469.8 L792.2,462.2 L793.2,450.9 L794.2,438.3 L795.2,424.3 L796.2,407.6 L797.2,390.0 L798.2,372.4 L799.2,354.2 L800.2,335.2 L801.2,315.0 L802.2,293.4 L803.2,267.3 L804.2,237.1 L805.2,210.1 L806.2,191.3 L807.2,174.4 L808.2,161.4 L809.2,156.2 L810.2,156.9 L811.2,158.9 L812.2,161.9 L813.2,165.8 L814.2,170.4 L815.2,175.4 L816.2,180.6 L817.2,187.7 L818.2,197.0 L819.2,207.7 L820.2,220.3 L821.2,236.0 L822.2,253.4 L823.2,271.2 L824.2,288.0 L825.2,303.2 L826.2,317.8 L827.2,332.2 L828.2,346.3 L829.2,360.4 L830.2,374.4 L831.2,388.6 L832.2,403.1 L833.2,417.8 L834.2,432.1 L835.2,445.7 L836.2,459.3 L837.2,474.4 L838.2,489.1 L839.2,501.6 L840.2,509.8 L841.2,512.1 L842.2,510.5 L843.2,507.2 L844.2,502.5 L845.2,497.0 L846.2,491.0 L847.2,485.0 L848.2,479.5 L849.2,474.9 L850.2,470.7 L851.2,466.6 L852.2,462.6 L853.2,458.6 L854.2,454.8 L855.2,450.9 L856.2,447.1 L857.2,442.8 L858.2,438.1 L859.2,433.5 L860.2,429.3 L861.2,425.9 L862.2,423.9 L863.2,423.7 L864.2,427.8 L865.2,435.1 L866.2,443.2 L867.2,449.8 L868.2,452.5 L869.2,448.7 L870.2,439.2 L871.2,427.1 L872.2,415.2 L873.2,404.7 L874.2,393.1 L875.2,382.9 L876.2,376.5 L877.2,371.7 L878.2,367.6 L879.2,365.0 L880.2,364.4 L881.2,369.1 L882.2,378.4 L883.2,390.2 L884.2,402.2 L885.2,417.6 L886.2,435.0 L887.2,451.5 L888.2,468.0 L889.2,484.5 L890.2,499.9 L891.2,513.9 L892.2,528.9 L893.2,543.5 L894.2,554.6 L895.2,559.6 L896.2,557.3 L897.2,550.4 L898.2,540.4 L899.2,528.7 L900.2,516.9 L901.2,506.4 L902.2,497.3 L903.2,488.3 L904.2,477.9 L905.2,464.7 L906.2,442.5 L907.2,409.1 L908.2,386.8 L909.2,370.6 L910.2,356.9 L911.2,346.0 L912.2,338.1 L913.2,332.5 L914.2,327.4 L915.2,322.8 L916.2,318.7 L917.2,315.3 L918.2,312.6 L919.2,310.9 L920.2,310.1 L921.2,311.0 L922.2,314.1 L923.2,319.0 L924.2,325.0 L925.2,331.4 L926.2,337.5 L927.2,344.8 L928.2,353.4 L929.2,361.9 L930.2,369.0 L931.2,373.9 L932.2,378.5 L933.2,382.7 L934.2,386.4 L935.2,389.3 L936.2,391.1 L937.2,391.5 L938.2,389.9 L939.2,386.4 L940.2,381.7 L941.2,376.3 L942.2,370.9 L943.2,366.2 L944.2,361.1 L945.2,355.3 L946.2,349.1 L947.2,342.9 L948.2,337.2 L949.2,332.3 L950.2,328.8 L951.2,326.9 L952.2,327.7 L953.2,333.0 L954.2,341.3 L955.2,350.7 L956.2,360.1 L957.2,372.3 L958.2,384.9 L959.2,394.7 L960.2,402.9 L961.2,409.7 L962.2,412.1 L963.2,407.0 L964.2,395.8 L965.2,381.4 L966.2,366.5 L967.2,347.7 L968.2,325.4 L969.2,302.3 L970.2,277.1 L971.2,249.2 L972.2,224.6 L973.2,208.2 L974.2,194.2 L975.2,181.4 L976.2,170.3 L977.2,161.9 L978.2,156.9 L979.2,156.0 L980.2,158.8 L981.2,164.7 L982.2,173.1 L983.2,183.4 L984.2,195.1 L985.2,207.5 L986.2,221.1 L987.2,240.1 L988.2,262.9 L989.2,287.5 L990.2,315.7 L991.2,347.1 L992.2,373.3 L993.2,394.3 L994.2,412.8 L995.2,426.9 L996.2,436.6 L997.2,445.2 L998.2,451.8 L999.2,454.9 L1000.2,453.6 L1001.2,448.7 L1002.2,441.0 L1003.2,431.7 L1004.2,421.7 L1005.2,410.8 L1006.2,395.3 L1007.2,379.7 L1008.2,369.5 L1009.2,362.5 L1010.2,356.4 L1011.2,352.2 L1012.2,350.6 L1013.2,353.9 L1014.2,362.3 L1015.2,373.3 L1016.2,384.9 L1017.2,400.9 L1018.2,419.7 L1019.2,435.9 L1020.2,447.0 L1021.2,457.5 L1022.2,466.8 L1023.2,473.8 L1024.2,477.6 L1025.2,477.3 L1026.2,473.6 L1027.2,468.3 L1028.2,462.7 L1029.2,458.6 L1030.2,457.4 L1031.2,458.5 L1032.2,460.8 L1033.2,463.6 L1034.2,466.4 L1035.2,468.7 L1036.2,469.9 L1037.2,469.2 L1038.2,465.7 L1039.2,460.1 L1040.2,453.3 L1041.2,446.2 L1042.2,439.5 L1043.2,432.7 L1044.2,424.9 L1045.2,416.8 L1046.2,409.1 L1047.2,402.3 L1048.2,397.0 L1049.2,392.1 L1050.2,387.3 L1051.2,383.0 L1052.2,379.9 L1053.2,378.2 L1054.2,378.5 L1055.2,381.1 L1056.2,385.5 L1057.2,391.0 L1058.2,396.8 L1059.2,402.5 L1060.2,408.2 L1061.2,414.8 L1062.2,421.9 L1063.2,428.9 L1064.2,435.2 L1065.2,440.5 L1066.2,445.5 L1067.2,450.6 L1068.2,455.4 L1069.2,459.4 L1070.2,462.2 L1071.2,463.6 L1072.2,460.8 L1073.2,450.9 L1074.2,436.0 L1075.2,418.5 L1076.2,391.1 L1077.2,356.4 L1078.2,333.3 L1079.2,315.1 L1080.2,298.5 L1081.2,280.7 L1082.2,259.6 L1083.2,237.3 L1084.2,216.1 L1085.2,198.3 L1086.2,186.4 L1087.2,182.5 L1088.2,187.2 L1089.2,198.5 L1090.2,215.1 L1091.2,235.6 L1092.2,258.6 L1093.2,282.7 L1094.2,312.1 L1095.2,351.3 L1096.2,381.9 L1097.2,407.6 L1098.2,428.7 L1099.2,442.0 L1100.2,451.5 L1101.2,458.5 L1102.2,461.3 L1103.2,456.5 L1104.2,444.5 L1105.2,429.1 L1106.2,413.7 L1107.2,395.8 L1108.2,375.0 L1109.2,353.4 L1110.2,333.0 L1111.2,315.0 L1112.2,298.3 L1113.2,285.0 L1114.2,272.0 L1115.2,259.7 L1116.2,249.5 L1117.2,243.2 L1118.2,242.0 L1119.2,247.1 L1120.2,256.8 L1121.2,269.5 L1122.2,283.3 L1123.2,297.5 L1124.2,316.0 L1125.2,333.9 L1126.2,348.9 L1127.2,364.5 L1128.2,378.2 L1129.2,387.2 L1130.2,389.0 L1131.2,384.4 L1132.2,375.5 L1133.2,364.0 L1134.2,351.8 L1135.2,338.0 L1136.2,319.2 L1137.2,301.2 L1138.2,290.6 L1139.2,283.8 L1140.2,277.6 L1141.2,272.0 L1142.2,267.1 L1143.2,263.1 L1144.2,260.0 L1145.2,257.8 L1146.2,256.8 L1147.2,257.8 L1148.2,263.9 L1149.2,273.9 L1150.2,286.2 L1151.2,302.8 L1152.2,329.6 L1153.2,357.6 L1154.2,378.4 L1155.2,394.9 L1156.2,409.7 L1157.2,423.4 L1158.2,436.8 L1159.2,451.6 L1160.2,468.2 L1161.2,483.0 L1162.2,492.2 L1163.2,492.2 L1164.2,483.2 L1165.2,468.1 L1166.2,450.3 L1167.2,432.7 L1168.2,416.4 L1169.2,397.9 L1170.2,380.5 L1171.2,367.7 L1172.2,356.3 L1173.2,345.9 L1174.2,337.9 L1175.2,333.8 L1176.2,335.1 L1177.2,341.9 L1178.2,352.0 L1179.2,363.1 L1180.2,373.0 L1181.2,383.4 L1182.2,394.3 L1183.2,403.3 L1184.2,409.6 L1185.2,415.5 L1186.2,420.4 L1187.2,423.7 L1188.2,424.6 L1189.2,423.5 L1190.2,421.4 L1191.2,419.3 L1192.2,417.9 L1193.2,418.4 L1194.2,421.2 L1195.2,424.9 L1196.2,427.6 L1197.2,427.1 L1198.2,420.7 L1199.2,411.0 L1200.2,401.1 L1201.2,392.5 L1202.2,383.0 L1203.2,373.6 L1204.2,365.3 L1205.2,359.2 L1206.2,354.3 L1207.2,349.6 L1208.2,345.3 L1209.2,341.6 L1210.2,338.9 L1211.2,337.3 L1212.2,337.2 L1213.2,342.9 L1214.2,353.8 L1215.2,368.0 L1216.2,392.9 L1217.2,429.0 L1218.2,451.6 L1219.2,471.3 L1220.2,489.7 L1221.2,505.9 L1222.2,519.0 L1223.2,528.2 L1224.2,532.6 L1225.2,532.0 L1226.2,527.6 L1227.2,520.0 L1228.2,509.9 L1229.2,497.7 L1230.2,484.0 L1231.2,469.2 L1232.2,452.5 L1233.2,426.9 L1234.2,402.0 L1235.2,376.8 L1236.2,353.1 L1237.2,333.4 L1238.2,317.6 L1239.2,303.7 L1240.2,290.0 L1241.2,274.6 L1242.2,257.3 L1243.2,239.3 L1244.2,222.0 L1245.2,206.4 L1246.2,193.7 L1247.2,185.3 L1248.2,182.2 L1249.2,185.8 L1250.2,195.9 L1251.2,211.0 L1252.2,229.7 L1253.2,250.7 L1254.2,272.7 L1255.2,294.6 L1256.2,324.1 L1257.2,350.3 L1258.2,370.8 L1259.2,390.6 L1260.2,407.5 L1261.2,419.5 L1262.2,424.6 L1263.2,419.4 L1264.2,404.9 L1265.2,386.9 L1266.2,371.1 L1267.2,358.0 L1268.2,345.0 L1269.2,332.9 L1270.2,322.6 L1271.2,314.1 L1272.2,305.7 L1273.2,298.2 L1274.2,292.7 L1275.2,290.3 L1276.2,294.0 L1277.2,304.7 L1278.2,318.6 L1279.2,333.4 L1280.2,353.3 L1281.2,375.5 L1282.2,395.2 L1283.2,410.9 L1284.2,426.7 L1285.2,439.0 L1286.2,444.0 L1287.2,438.8 L1288.2,425.9 L1289.2,409.1 L1290.2,392.3 L1291.2,373.3 L1292.2,351.7 L1293.2,331.0 L1294.2,313.9 L1295.2,298.6 L1296.2,284.1 L1297.2,268.1 L1298.2,251.3 L1299.2,235.6 L1300.2,222.8 L1301.2,214.4 L1302.2,212.2 L1303.2,216.2 L1304.2,225.2 L1305.2,238.4 L1306.2,254.9 L1307.2,273.8 L1308.2,294.8 L1309.2,331.2 L1310.2,371.1 L1311.2,405.5 L1312.2,435.0 L1313.2,456.3 L1314.2,476.8 L1315.2,496.0 L1316.2,513.1 L1317.2,527.1 L1318.2,537.3 L1319.2,542.9 L1320.2,543.0 L1321.2,538.3 L1322.2,529.8 L1323.2,518.5 L1324.2,505.2 L1325.2,491.1 L1326.2,476.9 L1327.2,463.6 L1328.2,450.8 L1329.2,437.0 L1330.2,426.2 L1331.2,417.1 L1332.2,408.6 L1333.2,402.1 L1334.2,398.7 L1335.2,399.6 L1336.2,404.4 L1337.2,411.6 L1338.2,419.9 L1339.2,427.9 L1340.2,434.1 L1341.2,437.1 L1342.2,433.8 L1343.2,423.5 L1344.2,412.2 L1345.2,405.5 L1346.2,400.3 L1347.2,395.5 L1348.2,391.4 L1349.2,388.5 L1350.2,387.1 L1351.2,387.7 L1352.2,390.6 L1353.2,395.1 L1354.2,400.4 L1355.2,405.8 L1356.2,410.4 L1357.2,413.5 L1358.2,414.3 L1359.2,410.8 L1360.2,403.8 L1361.2,395.3 L1362.2,387.3 L1363.2,381.6 L1364.2,376.7 L1365.2,372.1 L1366.2,368.4 L1367.2,366.3 L1368.2,367.2 L1369.2,373.3 L1370.2,383.0 L1371.2,394.7 L1372.2,406.5 L1373.2,421.0 L1374.2,437.7 L1375.2,452.8 L1376.2,467.7 L1377.2,483.6 L1378.2,499.8 L1379.2,515.3 L1380.2,529.6 L1381.2,541.8 L1382.2,551.2 L1383.2,557.0 L1384.2,558.3 L1385.2,551.0 L1386.2,534.9 L1387.2,512.0 L1388.2,484.3 L1389.2,452.3 L1390.2,397.9 L1391.2,364.6 L1392.2,338.5 L1393.2,314.8 L1394.2,289.1 L1395.2,258.3 L1396.2,225.5 L1397.2,194.3 L1398.2,168.8 L1399.2,152.7 L1400.2,149.5 L1401.2,157.8 L1402.2,174.6 L1403.2,197.6 L1404.2,224.6 L1405.2,253.5 L1406.2,281.9 L1407.2,312.1 L1408.2,348.1 L1409.2,375.5 L1410.2,397.3 L1411.2,417.4 L1412.2,433.6 L1413.2,443.2 L1414.2,444.1 L1415.2,435.2 L1416.2,419.4 L1417.2,400.3 L1418.2,381.1 L1419.2,364.9 L1420.2,348.7 L1421.2,332.1 L1422.2,315.9 L1423.2,300.6 L1424.2,286.0 L1425.2,269.8 L1426.2,257.2 L1427.2,253.4 L1428.2,258.1 L1429.2,267.7 L1430.2,279.9 L1431.2,292.6 L1432.2,310.0 L1433.2,330.9 L1434.2,350.6 L1435.2,364.9 L1436.2,378.3 L1437.2,390.5 L1438.2,399.5 L1439.2,403.5 L1440.2,402.5 L1441.2,399.5 L1442.2,395.2 L1443.2,390.3 L1444.2,385.6 L1445.2,381.8 L1446.2,377.9 L1447.2,373.7 L1448.2,369.6 L1449.2,366.2 L1450.2,364.0 L1451.2,363.5 L1452.2,367.0 L1453.2,374.2 L1454.2,383.2 L1455.2,392.2 L1456.2,399.6 L1457.2,404.9 L1458.2,410.4 L1459.2,415.8 L1460.2,421.1 L1461.2,426.2 L1462.2,430.7 L1463.2,434.7 L1464.2,437.9 L1465.2,440.2 L1466.2,441.4 L1467.2,441.1 L1468.2,437.7 L1469.2,431.8 L1470.2,424.5 L1471.2,416.7 L1472.2,406.5 L1473.2,393.0 L1474.2,378.5 L1475.2,365.6 L1476.2,356.4 L1477.2,348.7 L1478.2,341.7 L1479.2,335.3 L1480.2,329.4 L1481.2,324.0 L1482.2,318.9 L1483.2,314.2 L1484.2,309.7 L1485.2,306.0 L1486.2,302.7 L1487.2,299.4 L1488.2,295.5 L1489.2,289.5 L1490.2,281.4 L1491.2,273.3 L1492.2,267.3 L1493.2,265.7 L1494.2,268.4 L1495.2,274.2 L1496.2,282.4 L1497.2,292.4 L1498.2,313.0 L1499.2,338.3 L1500.2,356.8 L1501.2,374.3 L1502.2,391.5 L1503.2,406.9 L1504.2,419.1 L1505.2,426.9 L1506.2,428.8 L1507.2,423.1 L1508.2,412.5 L1509.2,400.7 L1510.2,391.4 L1511.2,382.0 L1512.2,372.3 L1513.2,364.1 L1514.2,359.0 L1515.2,358.8 L1516.2,366.7 L1517.2,380.0 L1518.2,394.8 L1519.2,407.5 L1520.2,417.5 L1521.2,428.3 L1522.2,444.0 L1523.2,477.9 L1524.2,523.1 L1525.2,564.0 L1526.2,587.5 L1527.2,605.0 L1528.2,617.4 L1529.2,620.8 L1530.2,615.5 L1531.2,604.1 L1532.2,588.6 L1533.2,568.5 L1534.2,532.3 L1535.2,485.1 L1536.2,434.9 L1537.2,376.6 L1538.2,321.9 L1539.2,280.4 L1540.2,243.9 L1541.2,209.6 L1542.2,179.9 L1543.2,157.3 L1544.2,144.1 L1545.2,142.5 L1546.2,150.3 L1547.2,165.0 L1548.2,185.1 L1549.2,208.7 L1550.2,234.1 L1551.2,259.6 L1552.2,283.4 L1553.2,306.4 L1554.2,332.1 L1555.2,354.5 L1556.2,370.7 L1557.2,386.3 L1558.2,401.3 L1559.2,415.4 L1560.2,428.2 L1561.2,439.1 L1562.2,447.9 L1563.2,454.0 L1564.2,457.1 L1565.2,456.6 L1566.2,452.3 L1567.2,445.1 L1568.2,436.2 L1569.2,426.6 L1570.2,417.5 L1571.2,408.6 L1572.2,398.5 L1573.2,387.7 L1574.2,377.0 L1575.2,366.9 L1576.2,358.0 L1577.2,349.0 L1578.2,339.5 L1579.2,330.0 L1580.2,320.7 L1581.2,312.1 L1582.2,304.5 L1583.2,298.4 L1584.2,294.2 L1585.2,292.1 L1586.2,294.7 L1587.2,306.1 L1588.2,322.6 L1589.2,340.3 L1590.2,356.2 L1591.2,373.4 L1592.2,391.0 L1593.2,406.7 L1594.2,420.4 L1595.2,432.9 L1596.2,444.9 L1597.2,458.5 L1598.2,472.4 L1599.2,484.4 L1600.2,492.5 L1601.2,494.8 L1602.2,493.6 L1603.2,490.9 L1604.2,487.1 L1605.2,482.3 L1606.2,476.7 L1607.2,466.8 L1608.2,452.6 L1609.2,436.7 L1610.2,417.9 L1611.2,394.6 L1612.2,359.8 L1613.2,321.6 L1614.2,299.3 L1615.2,279.8 L1616.2,263.6 L1617.2,252.2 L1618.2,247.4 L1619.2,248.8 L1620.2,252.9 L1621.2,258.6 L1622.2,264.8 L1623.2,270.3 L1624.2,274.3 L1625.2,277.2 L1626.2,279.8 L1627.2,282.3 L1628.2,285.0 L1629.2,288.3 L1630.2,292.4 L1631.2,297.3 L1632.2,303.6 L1633.2,312.6 L1634.2,329.7 L1635.2,348.1 L1636.2,363.4 L1637.2,377.6 L1638.2,389.7 L1639.2,402.1 L1640.2,414.0 L1641.2,423.6 L1642.2,429.3 L1643.2,428.6 L1644.2,417.9 L1645.2,400.7 L1646.2,380.4 L1647.2,344.6 L1648.2,305.6 L1649.2,285.4 L1650.2,272.4 L1651.2,262.3 L1652.2,256.1 L1653.2,255.0 L1654.2,259.7 L1655.2,269.3 L1656.2,282.2 L1657.2,299.1 L1658.2,331.7 L1659.2,372.8 L1660.2,415.6 L1661.2,465.8 L1662.2,517.5 L1663.2,564.2 L1664.2,604.0 L1665.2,640.8 L1666.2,650.6 L1667.2,641.7 L1668.2,624.3 L1669.2,601.0 L1670.2,574.1 L1671.2,529.9 L1672.2,469.7 L1673.2,404.1 L1674.2,334.5 L1675.2,256.3 L1676.2,202.0 L1677.2,163.1 L1678.2,128.9 L1679.2,102.7 L1680.2,88.0 L1681.2,87.9 L1682.2,101.4 L1683.2,124.8 L1684.2,154.3 L1685.2,185.8 L1686.2,216.0 L1687.2,253.0 L1688.2,296.3 L1689.2,339.5 L1690.2,375.6 L1691.2,398.4 L1692.2,411.5 L1692.5,414.0" stroke="#ff7f0e" stroke-width="3.4" stroke-dasharray="13.7 5.95"/></g>
<rect x="105.5" y="28.4" width="1662.3" height="781.5500000000001" fill="none" stroke="#000" stroke-width="1.5"/>
<g stroke="#000" stroke-width="1.5"><line x1="180.5" y1="809.95" x2="180.5" y2="817.85"/><line x1="481.9" y1="809.95" x2="481.9" y2="817.85"/><line x1="785.0" y1="809.95" x2="785.0" y2="817.85"/><line x1="1088.0" y1="809.95" x2="1088.0" y2="817.85"/><line x1="1389.6" y1="809.95" x2="1389.6" y2="817.85"/><line x1="1692.6" y1="809.95" x2="1692.6" y2="817.85"/><line x1="105.5" y1="83.8" x2="97.6" y2="83.8"/><line x1="105.5" y1="178.4" x2="97.6" y2="178.4"/><line x1="105.5" y1="272.9" x2="97.6" y2="272.9"/><line x1="105.5" y1="367.4" x2="97.6" y2="367.4"/><line x1="105.5" y1="462.0" x2="97.6" y2="462.0"/><line x1="105.5" y1="556.5" x2="97.6" y2="556.5"/><line x1="105.5" y1="651.0" x2="97.6" y2="651.0"/><line x1="105.5" y1="745.6" x2="97.6" y2="745.6"/></g>
<text class="tk" x="180.45" y="834.7" text-anchor="middle">0</text><text class="tk" x="483.30" y="834.7" text-anchor="middle">5</text><text class="tk" x="783.75" y="834.7" text-anchor="middle">10</text><text class="tk" x="1086.60" y="834.7" text-anchor="middle">15</text><text class="tk" x="1389.90" y="834.7" text-anchor="middle">20</text><text class="tk" x="1691.20" y="834.7" text-anchor="middle">25</text><text class="tk" x="87.8" y="89.3" text-anchor="end">1.5</text><text class="tk" x="87.8" y="183.9" text-anchor="end">1.0</text><text class="tk" x="87.8" y="278.4" text-anchor="end">0.5</text><text class="tk" x="87.8" y="372.9" text-anchor="end">0.0</text><text class="tk" x="87.8" y="467.5" text-anchor="end">−0.5</text><text class="tk" x="87.8" y="562.0" text-anchor="end">−1.0</text><text class="tk" x="87.8" y="656.5" text-anchor="end">−1.5</text><text class="tk" x="87.8" y="751.1" text-anchor="end">−2.0</text><text class="tk" x="104.6" y="21.6">1e6</text>
<text class="lb" x="936.6" y="865" text-anchor="middle">C1</text><text class="lb" transform="translate(34.2,419.2) rotate(-90)" text-anchor="middle">yaw br mz and C77</text>
<rect x="1554.5" y="722.7" width="201.2" height="75.5" rx="2.5" ry="2.5" fill="#ffffff" fill-opacity="0.8" stroke="#cccccc" stroke-opacity="0.8" stroke-width="1.35"/><line x1="1561.3" y1="741.5" x2="1609.5" y2="741.5" stroke="#1f77b4" stroke-width="3.4"/><line x1="1562.9" y1="775.7" x2="1608.3" y2="775.7" stroke="#ff7f0e" stroke-width="3.4" stroke-dasharray="13.7 5.95"/><text class="lb" x="1627.5" y="749.3" letter-spacing="0.3">yaw br mz</text><text class="lb" x="1627.5" y="783.4" letter-spacing="-0.5">C77</text></svg></body></html>
